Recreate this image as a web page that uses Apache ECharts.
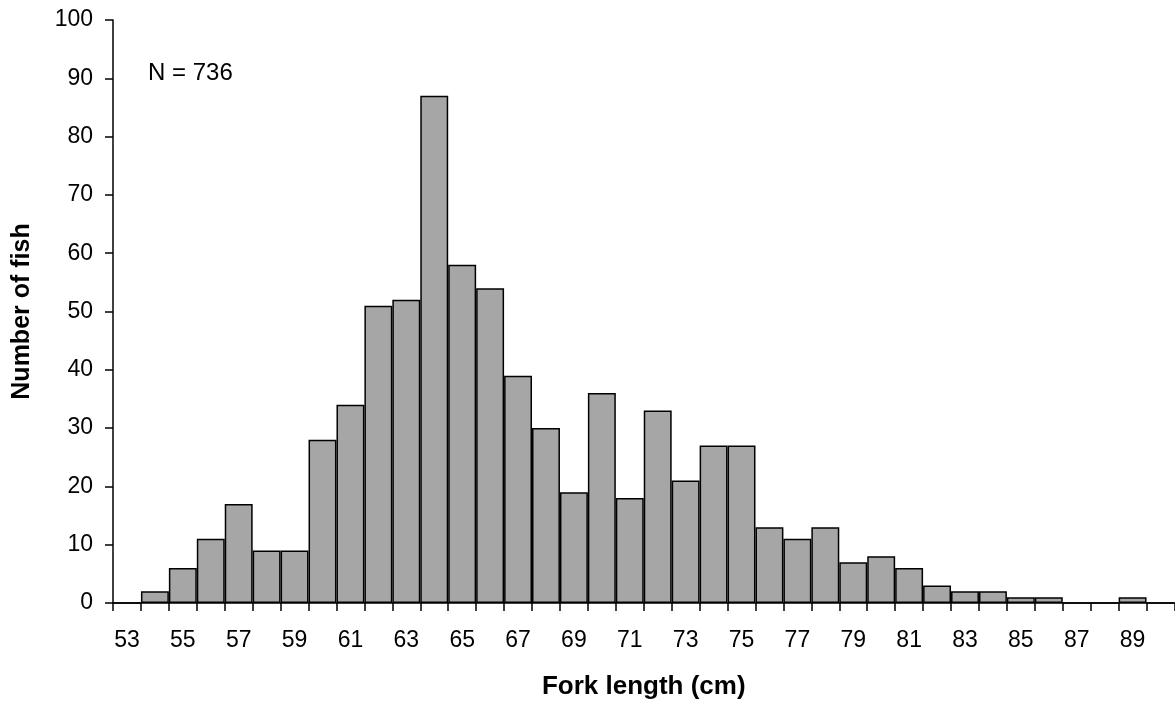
<!DOCTYPE html>
<html>
<head>
<meta charset="utf-8">
<script src="https://cdn.jsdelivr.net/npm/echarts@6/dist/echarts.min.js"></script>
<style>
html,body{margin:0;padding:0;background:#fff;}
#chart{width:1175px;height:708px;}
</style>
</head>
<body>
<div id="chart"></div>
<script>
var categories = ['53','54','55','56','57','58','59','60','61','62','63','64','65','66','67','68','69','70','71','72','73','74','75','76','77','78','79','80','81','82','83','84','85','86','87','88','89','90'];
var counts = [0,2,6,11,17,9,9,28,34,51,52,87,58,54,39,30,19,36,18,33,21,27,27,13,11,13,7,8,6,3,2,2,1,1,0,0,1,0];
var yTicks = {min: 0, max: 100, interval: 10};
var annotation = 'N = 736';

var chart = echarts.init(document.getElementById('chart'));
var font = '"Liberation Sans", Arial, sans-serif';
chart.setOption({
  animation: false,
  backgroundColor: '#fff',
  grid: {left: 113, top: 20, width: 1061.5, height: 583, containLabel: false, outerBoundsMode: 'none'},
  xAxis: {
    type: 'category',
    data: categories,
    boundaryGap: true,
    name: 'Fork length (cm)',
    nameLocation: 'middle',
    nameGap: 71,
    nameMoveOverlap: false,
    nameTextStyle: {fontFamily: font, fontSize: 26, fontWeight: 'bold', color: '#000'},
    axisLine: {lineStyle: {color: '#000', width: 1.5}},
    axisTick: {show: true, interval: 0, length: 8, lineStyle: {color: '#000', width: 1.5}},
    axisLabel: {interval: 1, margin: 26, fontFamily: font, fontSize: 23, color: '#000'},
    splitLine: {show: false}
  },
  yAxis: {
    type: 'value',
    min: yTicks.min,
    max: yTicks.max,
    interval: yTicks.interval,
    name: 'Number of fish',
    nameLocation: 'middle',
    nameGap: 78,
    nameMoveOverlap: false,
    nameTextStyle: {fontFamily: font, fontSize: 25, fontWeight: 'bold', color: '#000'},
    axisLine: {show: true, lineStyle: {color: '#000', width: 1.5}},
    axisTick: {show: true, length: 8, lineStyle: {color: '#000', width: 1.5}},
    axisLabel: {margin: 20, fontFamily: font, fontSize: 23, color: '#000'},
    splitLine: {show: false}
  },
  series: [{
    type: 'bar',
    data: counts,
    barCategoryGap: '0%',
    itemStyle: {color: '#a6a6a6', borderColor: '#000', borderWidth: 1.5}
  }],
  graphic: [{
    type: 'text',
    left: 148,
    top: 61,
    style: {text: annotation, font: '24px ' + font, fill: '#000'}
  }]
});
</script>
</body>
</html>
